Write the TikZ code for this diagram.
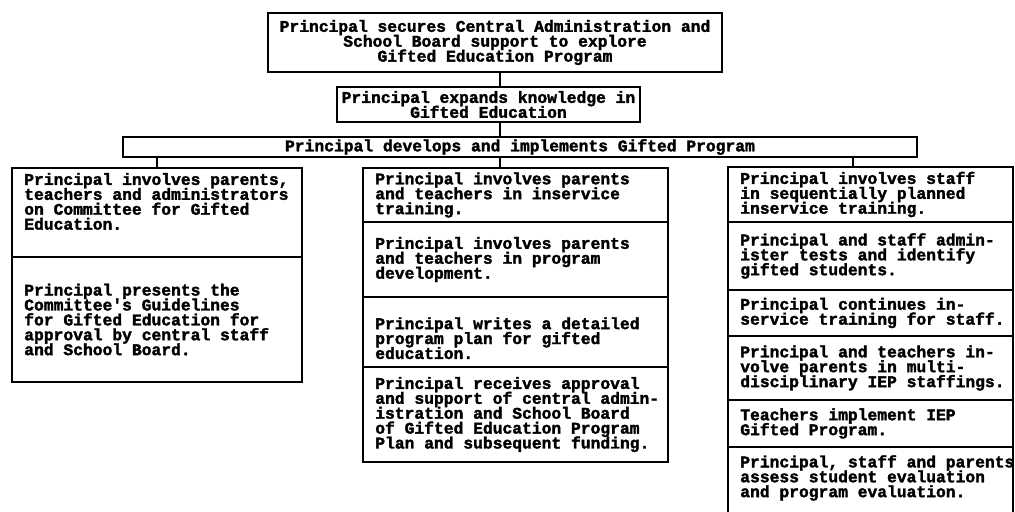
\documentclass[tikz,border=0pt]{standalone}
\usepackage{fontspec}
\newfontfamily\typed{Liberation Mono}[BoldFeatures={FakeBold=2}]
\usetikzlibrary{positioning}
\newcommand\typedfont{\typed\bfseries\fontsize{11.6}{10.6}\selectfont\lineskiplimit=-20pt\relax}

\tikzset{
  cellbox/.style={draw, line width=1.4pt, inner sep=0pt, outer sep=0pt},
  dims/.style 2 args={minimum width=#1*0.025cm, minimum height=#2*0.025cm},
  typedtext/.style={font=\typedfont},
  headbox/.style={cellbox, typedtext, align=center, anchor=north west},
  txt/.style={typedtext, align=left, inner sep=0pt, anchor=west, xshift=0.3cm},
  link/.style={line width=0.9pt},
}

\begin{document}
\begin{tikzpicture}[x=0.025cm, y=-0.025cm]
\useasboundingbox (0,0) rectangle (1015,512);
\clip (0,0) rectangle (1015,512);

%--- top of the chart ---
\node[headbox, dims={454}{59}] (secure) at (268,13)
  {Principal secures Central Administration and\\School Board support to explore\\Gifted Education Program};
\node[headbox, dims={303}{35}] (expand) at (337,87)
  {Principal expands knowledge in\\Gifted Education};
\node[headbox, dims={794}{20}] (develop) at (123,137)
  {Principal develops and implements Gifted Program};

\coordinate (spine) at (500,0);
\coordinate (rspine) at (853,0);

%--- left column ---
\node[cellbox, dims={290}{89}, anchor=north west] (l1) at (12,168) {};
\node[cellbox, dims={290}{125}, below=0pt of l1] (l2) {};
\node[txt, anchor=north west, yshift=-0.12cm] (l1t) at (l1.north west)
  {Principal involves parents,\\teachers and administrators\\on Committee for Gifted\\Education.};
\node[txt] (l2t) at (l2.west)
  {Principal presents the\\Committee's Guidelines\\for Gifted Education for\\approval by central staff\\and School Board.};

%--- middle column ---
\node[cellbox, dims={305}{54}, anchor=north west] (m1) at (363,168) {};
\node[cellbox, dims={305}{75}, below=0pt of m1] (m2) {};
\node[cellbox, dims={305}{70}, below=0pt of m2] (m3) {};
\node[cellbox, dims={305}{95}, below=0pt of m3] (m4) {};
\node[txt] (m1t) at (m1.west)
  {Principal involves parents\\and teachers in inservice\\training.};
\node[txt] (m2t) at (m2.west)
  {Principal involves parents\\and teachers in program\\development.};
\node[txt, anchor=north west, yshift=-0.5cm] (m3t) at (m3.north west)
  {Principal writes a detailed\\program plan for gifted\\education.};
\node[txt] (m4t) at (m4.west)
  {Principal receives approval\\and support of central admin-\\istration and School Board\\of Gifted Education Program\\Plan and subsequent funding.};

%--- right column ---
\node[cellbox, dims={285}{55}, anchor=north west] (r1) at (728,167) {};
\node[cellbox, dims={285}{68}, below=0pt of r1] (r2) {};
\node[cellbox, dims={285}{46}, below=0pt of r2] (r3) {};
\node[cellbox, dims={285}{64}, below=0pt of r3] (r4) {};
\node[cellbox, dims={285}{47}, below=0pt of r4] (r5) {};
\node[cellbox, dims={285}{80}, below=0pt of r5] (r6) {};
\node[txt] (r1t) at (r1.west)
  {Principal involves staff\\in sequentially planned\\inservice training.};
\node[txt] (r2t) at (r2.west)
  {Principal and staff admin-\\ister tests and identify\\gifted students.};
\node[txt] (r3t) at (r3.west)
  {Principal continues in-\\service training for staff.};
\node[txt] (r4t) at (r4.west)
  {Principal and teachers in-\\volve parents in multi-\\disciplinary IEP staffings.};
\node[txt] (r5t) at (r5.west)
  {Teachers implement IEP\\Gifted Program.};
\node[txt, anchor=north west, yshift=-0.2cm] (r6t) at (r6.north west)
  {Principal, staff and parents\\assess student evaluation\\and program evaluation.};

%--- connectors ---
\draw[link] (secure.south -| spine) -- (expand.north -| spine);
\draw[link] (expand.south -| spine) -- (develop.north -| spine);
\draw[link] (develop.south -| l1.north) -- (l1.north);
\draw[link] (develop.south -| spine) -- (m1.north -| spine);
\draw[link] (develop.south -| rspine) -- (r1.north -| rspine);

\end{tikzpicture}
\end{document}
